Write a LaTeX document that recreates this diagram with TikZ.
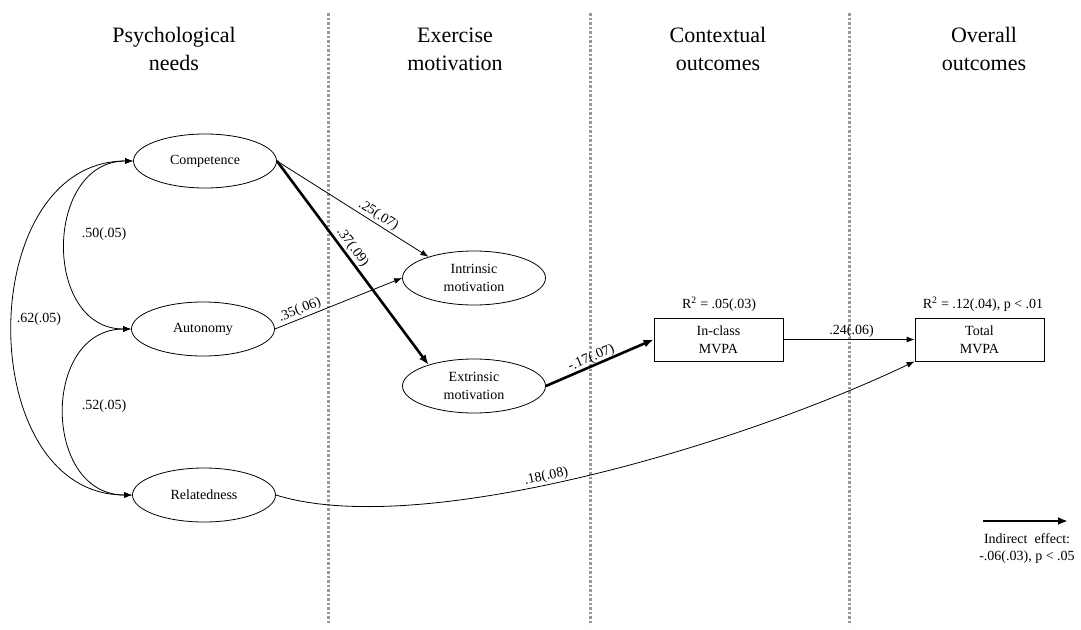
\documentclass[tikz,border=0pt]{standalone}
\usepackage{fontspec}
\setmainfont{Liberation Serif}
\usetikzlibrary{shapes.geometric,arrows.meta}
\begin{document}
\begin{tikzpicture}[x=1pt,y=-1pt,
  latent/.style={draw, ellipse, minimum width=143pt, minimum height=54pt, inner sep=0pt,
    font=\fontsize{14}{18}\selectfont, align=center, line width=0.8pt},
  obs/.style={draw, rectangle, minimum width=129pt, minimum height=43pt, inner sep=0pt,
    font=\fontsize{14}{18}\selectfont, align=center, line width=0.8pt},
  header/.style={font=\fontsize{22}{28}\selectfont, align=center},
  coef/.style={font=\fontsize{14}{17}\selectfont, inner sep=1.5pt},
  divider/.style={draw=gray!80, line width=3pt, dash pattern=on 2.5pt off 2pt},
  arr/.style={line width=0.8pt, -{Latex[length=8pt,width=6pt]}},
  thickarr/.style={line width=2.6pt, -{Latex[length=10pt,width=8pt]}},
  cov/.style={line width=0.8pt, {Latex[length=8pt,width=6pt]}-{Latex[length=8pt,width=6pt]}},
]
\useasboundingbox[fill=white] (0,0) rectangle (1081,629);

% dividers
\draw[divider] (328,13) -- (328,625);
\draw[divider] (590,13) -- (590,625);
\draw[divider] (849,13) -- (849,625);

% headers
\node[header] (h1) at (174,49) {Psychological\\needs};
\node[header] (h2) at (455,49) {Exercise\\motivation};
\node[header] (h3) at (718,49) {Contextual\\outcomes};
\node[header] (h4) at (984,49) {Overall\\outcomes};

% nodes
\node[latent] (comp) at (205,161) {Competence};
\node[latent] (auto) at (203,329) {Autonomy};
\node[latent] (rel) at (204,495) {Relatedness};
\node[latent] (intr) at (474,278) {Intrinsic\\motivation};
\node[latent] (extr) at (474,386) {Extrinsic\\motivation};
\node[obs] (incl) at (718.5,339.5) {In-class\\MVPA};
\node[obs] (tot) at (979.5,339.5) {Total\\MVPA};
\node[coef] (r1) at (719,304) {R\textsuperscript{2} = .05(.03)};
\node[coef] (r2) at (983,304) {R\textsuperscript{2} = .12(.04), p < .01};

% covariances
\draw[cov] (comp.west) .. controls +(-89,0) and +(-89,0) .. (auto.west);
\draw[cov] (auto.west) .. controls +(-90,0) and +(-90,0) .. (rel.west);
\draw[cov] (comp.west) .. controls +(-160,0) and +(-160,0) .. (rel.west);
\node[coef] (c1) at (104,234) {.50(.05)};
\node[coef] (c2) at (104,406) {.52(.05)};
\node[coef] (c3) at (39,319) {.62(.05)};

% paths
\draw[arr] (comp.east) -- node[coef, sloped, above, pos=0.64] {.25(.07)} (intr.155);
\draw[thickarr] (comp.east) -- node[coef, sloped, above, pos=0.45] {.37(.09)} (extr.155);
\draw[arr] (auto.east) -- node[coef, sloped, above, pos=0.22] {.35(.06)} (intr.west);
\draw[thickarr] (extr.east) -- node[coef, sloped, above, pos=0.45, inner sep=0pt] {-.17(.07)} (incl.west);
\draw[arr] (incl.east) -- node[coef, above, pos=0.52] {.24(.06)} (tot.west);
\draw[arr] (rel.east) .. controls (420,540) and (740,445) .. node[coef, sloped, above, pos=0.45] {.18(.08)} (tot.south west);

% legend
\coordinate (lgA) at (983,521);
\coordinate (lgB) at (1068,521);
\draw[thickarr] (lgA) -- (lgB);
\node[coef, align=center] (lgt) at (1027,549) {Indirect\ \ effect:\\-.06(.03), p < .05};
\end{tikzpicture}
\end{document}
